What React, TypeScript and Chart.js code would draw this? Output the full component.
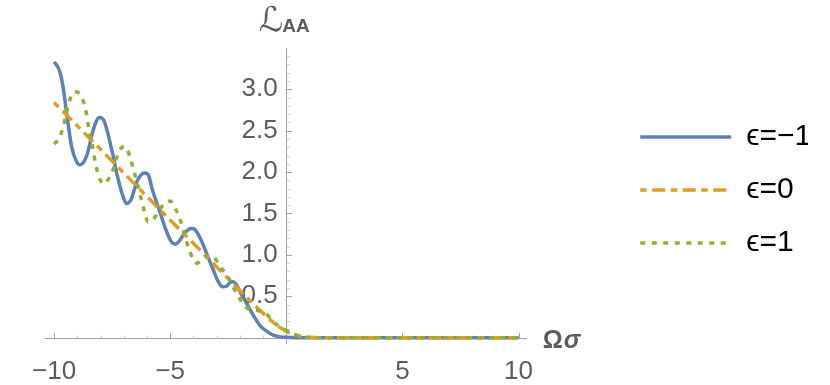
import React, { useEffect, useRef } from 'react';
import { Chart, registerables } from 'chart.js';

Chart.register(...registerables);

// ---- data ----
const blueX = [-10, -9.88, -9.74, -9.6, -9.45, -9.23, -9.02, -8.9, -8.75, -8.58, -8.29, -8.05, -7.85, -7.5, -7.28, -7.06, -6.88, -6.7, -6.41, -6.1, -5.95, -5.76, -5.47, -5.18, -4.95, -4.78, -4.6, -4.39, -4.1, -3.95, -3.67, -3.38, -3.16, -2.95, -2.75, -2.58, -2.36, -2.2, -1.93, -1.71, -1.42, -1.14, -0.85, -0.56, -0.25, 0, 0.5, 1, 10];
const blueY = [3.33, 3.29, 3.2, 3.01, 2.69, 2.29, 2.12, 2.09, 2.11, 2.21, 2.53, 2.66, 2.62, 2.25, 1.96, 1.73, 1.62, 1.66, 1.9, 1.99, 1.97, 1.78, 1.54, 1.3, 1.16, 1.13, 1.17, 1.26, 1.32, 1.31, 1.18, 0.98, 0.83, 0.69, 0.615, 0.62, 0.68, 0.66, 0.52, 0.415, 0.27, 0.15, 0.08, 0.03, 0.01, 0.005, 0, 0, 0];

const orangeX = [-10, -9, -8, -7, -6, -5, -4, -3, -2.5, -2, -1.5, -1, -0.5, -0.25, 0, 0.25, 0.5, 0.75, 1, 1.5, 10];
const orangeY = [2.84, 2.56, 2.275, 1.99, 1.705, 1.42, 1.14, 0.855, 0.715, 0.57, 0.43, 0.295, 0.17, 0.12, 0.08, 0.05, 0.025, 0.012, 0.005, 0, 0];

const greenX = [-10, -9.8, -9.6, -9.4, -9.2, -9.05, -8.85, -8.65, -8.5, -8.35, -8.2, -8.0, -7.86, -7.65, -7.43, -7.21, -6.95, -6.75, -6.55, -6.34, -6.15, -5.95, -5.75, -5.45, -5.2, -5.0, -4.8, -4.6, -4.4, -4.2, -4.0, -3.85, -3.6, -3.3, -3.1, -2.9, -2.51, -2.3, -2.07, -1.79, -1.55, -1.28, -0.92, -0.7, -0.56, -0.3, -0.12, 0.1, 0.31, 0.55, 0.75, 1.0, 1.3, 10];
const greenY = [2.34, 2.4, 2.55, 2.8, 2.95, 2.97, 2.92, 2.77, 2.52, 2.32, 2.08, 1.9, 1.86, 1.92, 2.05, 2.25, 2.31, 2.2, 2.0, 1.78, 1.57, 1.4, 1.42, 1.55, 1.63, 1.65, 1.57, 1.45, 1.26, 1.08, 0.94, 0.9, 0.96, 0.99, 0.97, 0.88, 0.73, 0.62, 0.5, 0.38, 0.34, 0.33, 0.3, 0.24, 0.19, 0.14, 0.11, 0.07, 0.045, 0.02, 0.008, 0.002, 0, 0];

const seriesLabels = ['ϵ=−1', 'ϵ=0', 'ϵ=1'];
const xTickValues = [-10, -5, 5, 10];
const yTickValues = [0.5, 1, 1.5, 2, 2.5, 3];
const xMinorTicks = [-9, -8, -7, -6, -4, -3, -2, -1, 1, 2, 3, 4, 6, 7, 8, 9];
const yMinorTicks = [0.1, 0.2, 0.3, 0.4, 0.6, 0.7, 0.8, 0.9, 1.1, 1.2, 1.3, 1.4, 1.6, 1.7, 1.8, 1.9, 2.1, 2.2, 2.3, 2.4, 2.6, 2.7, 2.8, 2.9, 3.1, 3.2, 3.3, 3.4];
const xAxisExtent = [-10.39, 10.35];
const yAxisExtent = [-0.076, 3.495];

const FONT = "'Liberation Sans', 'DejaVu Sans', Arial, sans-serif";
const GRAY_TEXT = '#5c5c5c';

const zip = (xs: number[], ys: number[]) => xs.map((x, i) => ({ x, y: ys[i] }));

const axesPlugin = {
  id: 'mmaAxes',
  beforeDatasetsDraw(chart: any) {
    const { ctx } = chart;
    const xs = chart.scales.x;
    const ys = chart.scales.y;
    const x0 = Math.round(xs.getPixelForValue(0)) + 0.5;
    const y0 = Math.round(ys.getPixelForValue(0)) + 0.5;
    ctx.save();
    ctx.lineWidth = 1;
    ctx.strokeStyle = '#a0a0a0';
    ctx.beginPath();
    ctx.moveTo(xs.getPixelForValue(xAxisExtent[0]), y0);
    ctx.lineTo(xs.getPixelForValue(xAxisExtent[1]), y0);
    ctx.moveTo(x0, ys.getPixelForValue(yAxisExtent[1]));
    ctx.lineTo(x0, ys.getPixelForValue(yAxisExtent[0]));
    ctx.stroke();
    ctx.beginPath();
    xTickValues.forEach((v) => {
      const px = Math.round(xs.getPixelForValue(v)) + 0.5;
      ctx.moveTo(px, y0);
      ctx.lineTo(px, y0 - 5.5);
    });
    yTickValues.forEach((v) => {
      const py = Math.round(ys.getPixelForValue(v)) + 0.5;
      ctx.moveTo(x0, py);
      ctx.lineTo(x0 + 5.5, py);
    });
    ctx.stroke();
    ctx.strokeStyle = '#c4c4c4';
    ctx.beginPath();
    xMinorTicks.forEach((v) => {
      const px = Math.round(xs.getPixelForValue(v)) + 0.5;
      ctx.moveTo(px, y0);
      ctx.lineTo(px, y0 - 3);
    });
    yMinorTicks.forEach((v) => {
      const py = Math.round(ys.getPixelForValue(v)) + 0.5;
      ctx.moveTo(x0, py);
      ctx.lineTo(x0 + 3, py);
    });
    ctx.stroke();
    ctx.restore();
  },
  afterDraw(chart: any) {
    const { ctx } = chart;
    const xs = chart.scales.x;
    const ys = chart.scales.y;
    const x0 = xs.getPixelForValue(0);
    const y0 = ys.getPixelForValue(0);
    const xEnd = xs.getPixelForValue(xAxisExtent[1]);
    const yTop = ys.getPixelForValue(yAxisExtent[1]);
    ctx.save();
    ctx.fillStyle = GRAY_TEXT;
    ctx.textBaseline = 'alphabetic';
    ctx.textAlign = 'right';
    ctx.font = "italic 34px 'DejaVu Sans', sans-serif";
    ctx.fillText('ℒ', x0 - 3, yTop - 17);
    ctx.textAlign = 'left';
    ctx.font = `bold 19px ${FONT}`;
    ctx.fillText('AA', x0 - 4, yTop - 16.5);
    ctx.font = `bold 25px ${FONT}`;
    ctx.fillText('Ω', xEnd + 16, y0 + 10.5);
    const w = ctx.measureText('Ω').width;
    ctx.font = `italic bold 25px ${FONT}`;
    ctx.fillText('σ', xEnd + 16 + w + 1, y0 + 10.5);
    ctx.restore();
  },
};

export default function App() {
  const canvasRef = useRef<HTMLCanvasElement | null>(null);

  useEffect(() => {
    const canvas = canvasRef.current;
    if (!canvas) return;
    const chart = new Chart(canvas, {
      type: 'line',
      data: {
        datasets: [
          {
            label: seriesLabels[0],
            data: zip(blueX, blueY),
            borderColor: '#5E81B5',
            backgroundColor: '#5E81B5',
            borderWidth: 3.5,
            pointRadius: 0,
            cubicInterpolationMode: 'monotone',
            order: 3,
          },
          {
            label: seriesLabels[1],
            data: zip(orangeX, orangeY),
            borderColor: '#E19C24',
            backgroundColor: '#E19C24',
            borderWidth: 3.5,
            borderDash: [6.5, 5.5, 13, 5.5],
            pointRadius: 0,
            cubicInterpolationMode: 'monotone',
            order: 2,
          },
          {
            label: seriesLabels[2],
            data: zip(greenX, greenY),
            borderColor: '#8FB032',
            backgroundColor: '#8FB032',
            borderWidth: 3.5,
            borderDash: [5, 6.5],
            pointRadius: 0,
            cubicInterpolationMode: 'monotone',
            order: 1,
          },
        ],
      },
      options: {
        animation: false,
        responsive: false,
        devicePixelRatio: 1,
        layout: { padding: { left: 45, top: 40, right: 22, bottom: 45 } },
        plugins: {
          tooltip: { enabled: false },
          legend: {
            position: 'right',
            labels: {
              usePointStyle: true,
              pointStyle: 'line',
              pointStyleWidth: 91,
              padding: 23,
              color: '#000000',
              font: { family: FONT, size: 30 },
              sort: (a: any, b: any) => a.datasetIndex - b.datasetIndex,
              generateLabels: (ch: any) => {
                const items = (Chart as any).defaults.plugins.legend.labels.generateLabels(ch);
                return items.map((it: any) => {
                  const ds = ch.data.datasets[it.datasetIndex];
                  return {
                    ...it,
                    pointStyle: 'line',
                    lineWidth: 3.5,
                    lineDash: ds.borderDash || [],
                    lineCap: 'butt',
                    strokeStyle: ds.borderColor,
                    fillStyle: ds.borderColor,
                  };
                });
              },
            },
          },
        },
        scales: {
          x: {
            type: 'linear',
            axis: 'x',
            position: { y: 0 },
            min: -10.39,
            max: 14.25,
            grid: { display: false, drawTicks: false },
            border: { display: false },
            afterBuildTicks: (scale: any) => {
              scale.ticks = xTickValues.map((v) => ({ value: v }));
            },
            ticks: {
              autoSkip: false,
              maxRotation: 0,
              padding: 19,
              color: GRAY_TEXT,
              font: { family: FONT, size: 26 },
              callback: (v: any) => (Number(v) < 0 ? '−' + Math.abs(Number(v)) : String(v)),
            },
          },
          y: {
            type: 'linear',
            axis: 'y',
            position: { x: -0.37 },
            min: -0.0278,
            max: 3.5954,
            grid: { display: false, drawTicks: false },
            border: { display: false },
            afterBuildTicks: (scale: any) => {
              scale.ticks = yTickValues.map((v) => ({ value: v }));
            },
            ticks: {
              autoSkip: false,
              padding: 0,
              color: GRAY_TEXT,
              font: { family: FONT, size: 26 },
              callback: (v: any) => Number(v).toFixed(1),
            },
          },
        },
      },
      plugins: [axesPlugin],
    } as any);
    return () => chart.destroy();
  }, []);

  return (
    <div style={{ position: 'absolute', left: 0, top: 0, width: 830, height: 385, background: '#ffffff' }}>
      <canvas ref={canvasRef} width={830} height={385} style={{ display: 'block' }} />
    </div>
  );
}
